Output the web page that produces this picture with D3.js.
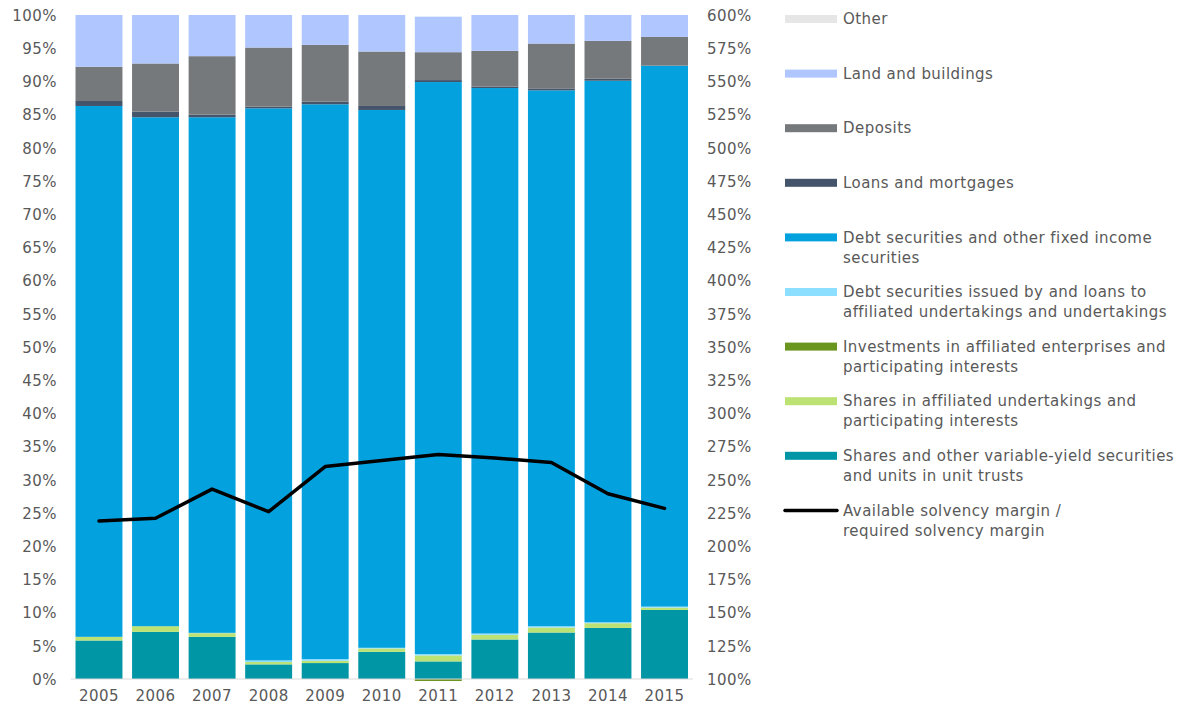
<!DOCTYPE html>
<html>
<head>
<meta charset="utf-8">
<script src="https://cdn.jsdelivr.net/npm/d3@7"></script>
<style>
  html, body { margin: 0; padding: 0; background: #fff; }
  svg text { font-family: "DejaVu Sans", Verdana, sans-serif; fill: #595959; letter-spacing: 0.45px; }
</style>
</head>
<body>
<svg id="chart" width="1183" height="710"></svg>
<script>
// ---- data ----
const years = ["2005","2006","2007","2008","2009","2010","2011","2012","2013","2014","2015"];

const sharesVariable   = [5.8, 7.1, 6.35, 2.2, 2.4, 4.1, 2.65, 5.95, 7.0, 7.7, 10.4];
const sharesAffiliated = [0.55, 0.85, 0.55, 0.35, 0.35, 0.5, 0.9, 0.7, 0.75, 0.7, 0.35];
const investments      = [0, 0, 0, 0, 0, 0, -0.3, 0, 0, 0, 0];
const debtAffiliated   = [0, 0, 0.05, 0.25, 0.25, 0.1, 0.2, 0.2, 0.2, 0.15, 0.15];
const debtSecurities   = [79.95, 76.65, 77.65, 83.15, 83.55, 81.0, 86.15, 82.15, 80.7, 81.55, 81.45];
const loans            = [0.75, 0.85, 0.4, 0.25, 0.4, 0.6, 0.3, 0.2, 0.3, 0.3, 0.05];
const deposits         = [5.15, 7.25, 8.8, 8.9, 8.55, 8.2, 4.2, 5.4, 6.75, 5.7, 4.3];
const landBuildings    = [7.8, 7.3, 6.2, 4.9, 4.5, 5.5, 5.35, 5.4, 4.3, 3.9, 3.3];
const other            = [0, 0, 0, 0, 0, 0, 0, 0, 0, 0, 0];

const solvencyRatio    = [219, 221, 243, 226, 260, 264.5, 269, 266.5, 263, 239.5, 228.5];

const leftTicks  = [0,5,10,15,20,25,30,35,40,45,50,55,60,65,70,75,80,85,90,95,100];
const rightTicks = [100,125,150,175,200,225,250,275,300,325,350,375,400,425,450,475,500,525,550,575,600];

const seriesNames = [
  "Shares and other variable-yield securities and units in unit trusts",
  "Shares in affiliated undertakings and participating interests",
  "Investments in affiliated enterprises and participating interests",
  "Debt securities issued by and loans to affiliated undertakings and undertakings",
  "Debt securities and other fixed income securities",
  "Loans and mortgages",
  "Deposits",
  "Land and buildings",
  "Other"
];
const seriesValues = [sharesVariable, sharesAffiliated, investments, debtAffiliated,
  debtSecurities, loans, deposits, landBuildings, other];
const seriesColors = ["#0096a6", "#bbe272", "#6a961f", "#8ddfff", "#03a2df",
  "#44546a", "#75797c", "#b0c6ff", "#e6e6e6"];
const lineName = "Available solvency margin / required solvency margin";

// legend labels (wrapped as in the reference), top to bottom
const legendLines = [
  ["Other"],
  ["Land and buildings"],
  ["Deposits"],
  ["Loans and mortgages"],
  ["Debt securities and other fixed income", "securities"],
  ["Debt securities issued by and loans to", "affiliated undertakings and undertakings"],
  ["Investments in affiliated enterprises and", "participating interests"],
  ["Shares in affiliated undertakings and", "participating interests"],
  ["Shares and other variable-yield securities", "and units in unit trusts"],
  ["Available solvency margin /", "required solvency margin"]
];

// ---- build table ----
const table = years.map((y, i) => {
  const row = { year: y };
  seriesNames.forEach((n, k) => row[n] = seriesValues[k][i]);
  return row;
});

const svg = d3.select("#chart");
const plot = { left: 70.7, right: 692.8, top: 15, bottom: 679 };

const x = d3.scaleBand().domain(years).range([plot.left, plot.right]).paddingInner(0.17).paddingOuter(0.085);
const y = d3.scaleLinear().domain([0, 100]).range([plot.bottom, plot.top]);
const y2 = d3.scaleLinear().domain([100, 600]).range([plot.bottom, plot.top]);

const stack = d3.stack().keys(seriesNames).offset(d3.stackOffsetDiverging);
const stacked = stack(table);

svg.append("g").selectAll("g").data(stacked).join("g")
  .attr("fill", (d, i) => seriesColors[i])
  .selectAll("rect").data(d => d).join("rect")
  .attr("x", d => x(d.data.year))
  .attr("width", x.bandwidth())
  .attr("y", d => y(Math.max(d[0], d[1])))
  .attr("height", d => Math.abs(y(d[0]) - y(d[1])));

// axis baseline
svg.append("line")
  .attr("x1", plot.left).attr("x2", plot.right)
  .attr("y1", y(0)).attr("y2", y(0))
  .attr("stroke", "#d9d9d9").attr("stroke-width", 1);

// left axis
const leftAxis = d3.axisLeft(y).tickValues(leftTicks).tickSize(0).tickPadding(0)
  .tickFormat(d => d + "%");
const gl = svg.append("g").attr("transform", "translate(57,0)").call(leftAxis);
gl.select(".domain").remove();
gl.selectAll("text").style("font-size", "15px").attr("dy", "0.35em");

// right axis
const rightAxis = d3.axisRight(y2).tickValues(rightTicks).tickSize(0).tickPadding(0)
  .tickFormat(d => d + "%");
const gr = svg.append("g").attr("transform", "translate(707,0)").call(rightAxis);
gr.select(".domain").remove();
gr.selectAll("text").style("font-size", "15px").attr("dy", "0.35em");

// x axis
const bottomAxis = d3.axisBottom(x).tickSize(0).tickPadding(0);
const gb = svg.append("g").attr("transform", `translate(0,${plot.bottom + 13})`).call(bottomAxis);
gb.select(".domain").remove();
gb.selectAll("text").style("font-size", "15px").attr("dy", "0.6em");

// solvency line
const line = d3.line()
  .x((d, i) => x(years[i]) + x.bandwidth() / 2)
  .y(d => y2(d));
svg.append("path").datum(solvencyRatio)
  .attr("d", line).attr("fill", "none")
  .attr("stroke", "#000").attr("stroke-width", 3.5)
  .attr("stroke-linecap", "round").attr("stroke-linejoin", "round");

// legend
const legendColors = seriesColors.slice().reverse();
const lg = svg.append("g");
legendLines.forEach((lines, i) => {
  const cy = 19 + i * 54.6;
  const g = lg.append("g");
  if (i < legendColors.length) {
    g.append("rect").attr("x", 785).attr("y", cy - 4).attr("width", 52).attr("height", 8)
      .attr("fill", legendColors[i]);
  } else {
    g.append("line").attr("x1", 785).attr("x2", 837).attr("y1", cy).attr("y2", cy)
      .attr("stroke", "#000").attr("stroke-width", 3.5).attr("stroke-linecap", "round");
  }
  lines.forEach((t, j) => {
    g.append("text").attr("x", 843).attr("y", cy + j * 20).attr("dy", "0.35em")
      .style("font-size", "15px").text(t);
  });
});
</script>
</body>
</html>
